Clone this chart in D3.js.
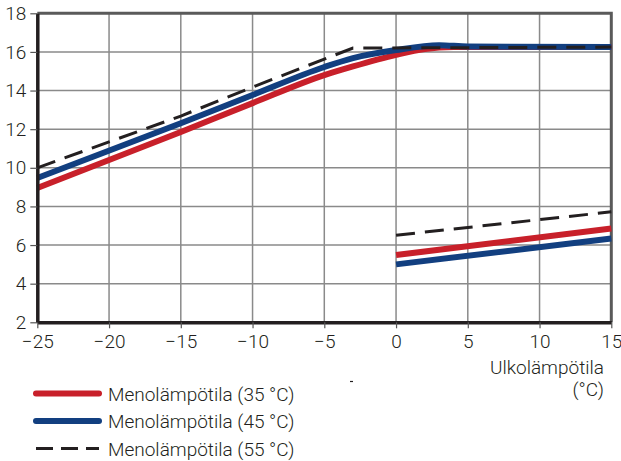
<!DOCTYPE html>
<html>
<head>
<meta charset="utf-8">
<script src="https://cdn.jsdelivr.net/npm/d3@7"></script>
<style>
  body { margin: 0; background: #fff; }
  svg text { font-family: Roboto, "Noto Sans", sans-serif; font-weight: 300; fill: #231f20; }
</style>
</head>
<body>
<div class="container"></div>
<script>
// outdoor temperature ticks and y ticks
let xTicks = [-25, -20, -15, -10, -5, 0, 5, 10, 15]
let yTicks = [2, 4, 6, 8, 10, 12, 14, 16, 18]

// upper curves: [outdoor temp, value]
let red35 = [[-25, 8.95], [-15, 11.85], [-10, 13.35], [-5, 14.8], [-3, 15.25], [0, 15.85], [2, 16.15], [4, 16.25], [15, 16.25]]
let blue45 = [[-25, 9.47], [-15, 12.31], [-10, 13.77], [-5, 15.22], [-3, 15.68], [0, 16.1], [3, 16.35], [5, 16.28], [15, 16.25]]
let black55 = [[-25, 10.0], [-15, 12.68], [-10, 14.18], [-5, 15.63], [-3, 16.2], [15, 16.25]]

// lower lines
let red35Low = [[0, 5.48], [15, 6.86]]
let blue45Low = [[0, 5.0], [15, 6.34]]
let black55Low = [[0, 6.51], [15, 7.72]]

let legendLabels = ['Menolämpötila (35 °C)', 'Menolämpötila (45 °C)', 'Menolämpötila (55 °C)']

let colors = { red: '#c8202a', blue: '#123f80', black: '#231f20' }

let margin = { top: 13.3, left: 37.3, bottom: 322.3, right: 611.3 }
let fontSize = 19

let svg = d3.select('.container')
    .append('svg')
    .attr('width', 621)
    .attr('height', 461)

let xScale = d3.scaleLinear().domain([-25, 15]).range([margin.left, margin.right])
let yScale = d3.scaleLinear().domain([2, 18]).range([margin.bottom, margin.top])

// grid
svg.append('g')
    .selectAll('line')
    .data(xTicks.slice(1, -1))
    .enter()
    .append('line')
    .attr('x1', d => xScale(d)).attr('x2', d => xScale(d))
    .attr('y1', margin.top).attr('y2', margin.bottom)
    .attr('stroke', '#8a8a8a').attr('stroke-width', 1.5)

svg.append('g')
    .selectAll('line')
    .data(yTicks.slice(1, -1))
    .enter()
    .append('line')
    .attr('x1', margin.left).attr('x2', margin.right)
    .attr('y1', d => yScale(d)).attr('y2', d => yScale(d))
    .attr('stroke', '#8a8a8a').attr('stroke-width', 1.5)

// top and right frame
svg.append('path')
    .attr('d', `M${margin.left},${margin.top}H${margin.right}V${margin.bottom}`)
    .attr('fill', 'none')
    .attr('stroke', '#5a5a5a')
    .attr('stroke-width', 3)

let line = d3.line()
    .x(d => xScale(d[0]))
    .y(d => yScale(d[1]))
let curve = d3.line()
    .x(d => xScale(d[0]))
    .y(d => yScale(d[1]))
    .curve(d3.curveMonotoneX)

svg.append('path').datum(red35).attr('d', curve)
    .attr('fill', 'none').attr('stroke', colors.red).attr('stroke-width', 6)
svg.append('path').datum(blue45).attr('d', curve)
    .attr('fill', 'none').attr('stroke', colors.blue).attr('stroke-width', 6)
svg.append('path').datum(black55).attr('d', line)
    .attr('fill', 'none').attr('stroke', colors.black).attr('stroke-width', 3)
    .attr('stroke-dasharray', '19,10')

svg.append('path').datum(red35Low).attr('d', line)
    .attr('fill', 'none').attr('stroke', colors.red).attr('stroke-width', 6)
svg.append('path').datum(blue45Low).attr('d', line)
    .attr('fill', 'none').attr('stroke', colors.blue).attr('stroke-width', 6)
svg.append('path').datum(black55Low).attr('d', line)
    .attr('fill', 'none').attr('stroke', colors.black).attr('stroke-width', 3)
    .attr('stroke-dasharray', '19,10')

// axes
let fmt = d => (d < 0 ? '\u2212' + Math.abs(d) : d)
let xAxis = d3.axisBottom(xScale).tickValues(xTicks).tickSize(6).tickSizeOuter(0).tickFormat(fmt)
let yAxis = d3.axisLeft(yScale).tickValues(yTicks).tickSize(7).tickSizeOuter(0)

let gx = svg.append('g')
    .attr('transform', `translate(0,${margin.bottom})`)
    .call(xAxis)
gx.select('.domain').attr('stroke', colors.black).attr('stroke-width', 3.5)
gx.selectAll('.tick line').attr('stroke', '#555').attr('stroke-width', 1.2)
gx.selectAll('.tick text').attr('font-size', fontSize).attr('y', 12)
    .style('font-family', 'Roboto, "Noto Sans", sans-serif').style('font-weight', 300).attr('fill', '#231f20')

let gy = svg.append('g')
    .attr('transform', `translate(${margin.left},0)`)
    .call(yAxis)
gy.select('.domain').attr('stroke', colors.black).attr('stroke-width', 3.5)
gy.selectAll('.tick line').attr('stroke', '#555').attr('stroke-width', 1.2)
gy.selectAll('.tick text').attr('font-size', fontSize).attr('x', -11)
    .style('font-family', 'Roboto, "Noto Sans", sans-serif').style('font-weight', 300).attr('fill', '#231f20')

// axis title
svg.append('text')
    .attr('x', 604).attr('y', 374)
    .attr('text-anchor', 'end')
    .attr('font-size', fontSize)
    .text('Ulkolämpötila')
svg.append('text')
    .attr('x', 604).attr('y', 396)
    .attr('text-anchor', 'end')
    .attr('font-size', fontSize)
    .text('(°C)')

// stray tick mark under the plot
svg.append('line')
    .attr('x1', 350).attr('x2', 353)
    .attr('y1', 381.5).attr('y2', 381.5)
    .attr('stroke', colors.black).attr('stroke-width', 1.2)

// legend
let legendStyles = [
    { color: colors.red, width: 6, dash: null },
    { color: colors.blue, width: 6, dash: null },
    { color: colors.black, width: 3, dash: '17,8' }
]
let legend = svg.append('g')
    .selectAll('g')
    .data(legendLabels)
    .enter()
    .append('g')
    .attr('transform', (d, i) => `translate(0,${393.5 + i * 27.5})`)

legend.append('line')
    .attr('x1', 36).attr('x2', 99)
    .attr('y1', 0).attr('y2', 0)
    .attr('stroke', (d, i) => legendStyles[i].color)
    .attr('stroke-width', (d, i) => legendStyles[i].width)
    .attr('stroke-linecap', (d, i) => legendStyles[i].dash ? 'butt' : 'round')
    .attr('stroke-dasharray', (d, i) => legendStyles[i].dash)

legend.append('text')
    .attr('x', 108)
    .attr('y', 7)
    .attr('font-size', fontSize)
    .text(d => d)
</script>
</body>
</html>
